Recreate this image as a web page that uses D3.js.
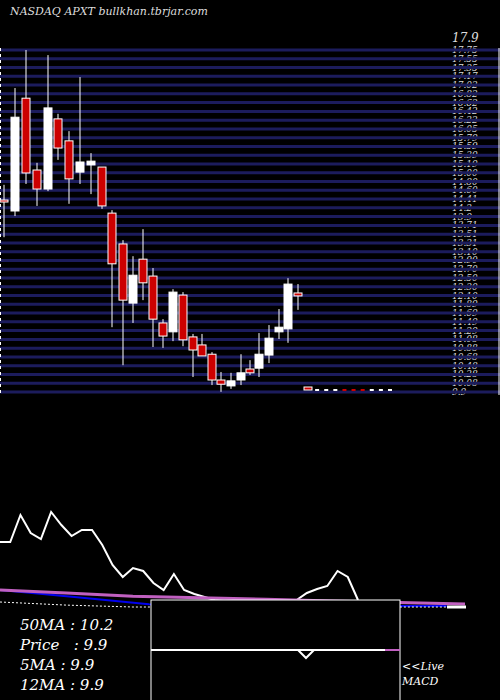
<!DOCTYPE html>
<html><head><meta charset="utf-8">
<script src="https://cdn.jsdelivr.net/npm/d3@7"></script>
<style>body{margin:0;background:#000}svg{display:block}</style>
</head><body>
<svg id="c" width="500" height="700"></svg>
<script>
const opens  = [14.16,13.90,16.57,14.87,14.42,16.08,15.56,14.82,14.99,14.94,13.85,13.12,11.72,12.76,12.36,11.25,11.04,11.91,10.92,10.73,10.51,9.90,9.76,9.90,10.16,10.18,10.49,11.04,11.11,11.96];
const closes = [14.14,16.12,14.80,14.42,16.34,15.39,14.66,15.06,15.08,14.02,12.65,11.79,12.38,12.20,11.34,10.94,11.98,10.85,10.61,10.47,9.90,9.80,9.88,10.07,10.07,10.51,10.89,11.15,12.17,11.89];
const highs  = [14.52,16.81,17.71,15.04,17.59,16.20,15.79,17.07,15.27,14.94,13.92,13.21,12.83,13.47,12.55,11.34,12.05,11.98,10.99,10.99,10.56,10.09,10.07,10.51,10.37,11.01,11.20,11.58,12.31,12.17];
const lows   = [13.28,13.78,14.54,14.02,14.37,15.11,14.07,14.54,14.30,13.95,11.15,10.25,11.25,11.79,10.68,10.66,10.82,10.70,9.97,10.47,9.78,9.62,9.69,9.78,10.02,9.97,10.30,10.87,10.78,11.56];
const candleX = [4,15,26,37,48,58,69,80,91,102,112,123,133,143,153,163,173,183,193,202,212,221,231,241,250,259,269,279,288,298];
const tickLabels = ["17.75","17.55","17.35","17.17","17.02","16.82","16.62","16.42","16.22","16.05","15.79","15.59","15.39","15.19","15.00","14.80","14.60","14.41","14.2","13.9","13.71","13.51","13.31","13.10","12.90","12.70","12.50","12.30","12.10","11.89","11.69","11.49","11.29","11.08","10.88","10.68","10.48","10.28","10.08","9.9"];
const smallMarks = [1,0,0,0,1,1,1,0,0,0];
const macdPrice = [542,542,515,533,539,512,525,536,530,530,545,565,577,568,571,583,590,574,590,594,597,600,601,602,603,604,603,602,600,600,593,589,586,571,577,600];
const ma50 = [10.2,10.1,10.0,9.95,9.9,9.85,9.8,9.75];

const svg = d3.select("#c");
svg.append("rect").attr("width",500).attr("height",700).attr("fill","#000");
const serif = "'DejaVu Serif', 'Liberation Serif', serif";

const gy = d3.scalePoint().domain(tickLabels).range([50,392]);
svg.selectAll(".t").data(tickLabels).enter().append("text")
  .attr("x",452).attr("y",d=>gy(d)+3).text(d=>d)
  .attr("fill","#ddd").attr("font-family",serif).attr("font-style","italic").attr("font-size",9);
svg.append("text").attr("x",452).attr("y",42).text("17.9").attr("fill","#ddd")
  .attr("font-family",serif).attr("font-style","italic").attr("font-size",12);
svg.selectAll(".g").data(tickLabels).enter().append("line")
  .attr("x1",0).attr("x2",500).attr("y1",d=>gy(d)).attr("y2",d=>gy(d))
  .attr("stroke","#1c1c5c").attr("stroke-width",3);
svg.append("line").attr("x1",499).attr("x2",499).attr("y1",48).attr("y2",395).attr("stroke","#fff");
svg.append("line").attr("x1",0.5).attr("x2",0.5).attr("y1",48).attr("y2",395).attr("stroke","#fff").attr("stroke-dasharray","3,3");

const y = d3.scaleLinear().domain([9.9,17.9]).range([380,42]);
const idx = d3.range(opens.length);
svg.selectAll(".w").data(idx).enter().append("line")
  .attr("x1",i=>candleX[i]).attr("x2",i=>candleX[i]).attr("y1",i=>y(highs[i])).attr("y2",i=>y(lows[i]))
  .attr("stroke","#fff").attr("stroke-width",1);
svg.selectAll(".b").data(idx).enter().append("rect")
  .attr("x",i=>candleX[i]-4).attr("width",8)
  .attr("y",i=>y(Math.max(opens[i],closes[i])))
  .attr("height",i=>Math.max(2,Math.abs(y(opens[i])-y(closes[i]))))
  .attr("fill",i=>closes[i]>=opens[i]?"#fff":"#cc0000").attr("stroke","#fff").attr("stroke-width",1);

const sx = d3.scaleLinear().domain([0,smallMarks.length-1]).range([308,390]);
svg.selectAll(".s").data(smallMarks).enter().append("rect")
  .attr("x",(d,i)=>sx(i)-(i==0?4:2)).attr("y",(d,i)=>i==0?387:389).attr("width",(d,i)=>i==0?8:4).attr("height",(d,i)=>i==0?3:2)
  .attr("fill",d=>d?"#cc0000":"#fff").attr("stroke",(d,i)=>i==0?"#fff":"none");

const lx = d3.scaleLinear().domain([0,35]).range([0,358]);
svg.append("path").datum(macdPrice).attr("fill","none").attr("stroke","#fff").attr("stroke-width",2)
  .attr("d",d3.line().x((d,i)=>lx(i)).y(d=>d));
const mx = d3.scaleLinear().domain([0,ma50.length-1]).range([0,465]);
const my = d3.scaleLinear().domain([9.75,10.2]).range([604,590]);
svg.append("path").datum(ma50.slice(0,7)).attr("fill","none").attr("stroke","#0000ee").attr("stroke-width",2)
  .attr("d",d3.line().x((d,i)=>mx(i)*446/398).y((d,i)=>Math.min(606,my(d)+(i<3?i*4:8))));
svg.append("path").datum(ma50).attr("fill","none").attr("stroke","#fff").attr("stroke-width",1).attr("stroke-dasharray","2,2")
  .attr("d",d3.line().x((d,i)=>mx(i)).y((d,i)=>Math.min(607,my(d)+12)));
svg.append("path").datum(ma50).attr("fill","none").attr("stroke","#c060c0").attr("stroke-width",3)
  .attr("d",d3.line().x((d,i)=>mx(i)).y(d=>my(d)));
svg.append("line").attr("x1",447).attr("x2",466).attr("y1",607).attr("y2",607).attr("stroke","#fff").attr("stroke-width",3);

svg.append("rect").attr("x",151).attr("y",600).attr("width",249).attr("height",102).attr("fill","#000").attr("stroke","#fff");
svg.append("line").attr("x1",151).attr("x2",385).attr("y1",650).attr("y2",650).attr("stroke","#fff").attr("stroke-width",2);
svg.append("line").attr("x1",385).attr("x2",400).attr("y1",650).attr("y2",650).attr("stroke","#c060c0").attr("stroke-width",2);
svg.append("path").attr("d","M298,650L306,658L314,650").attr("fill","none").attr("stroke","#fff").attr("stroke-width",2);

const labels = ["50MA : 10.2","Price   : 9.9","5MA : 9.9","12MA : 9.9"];
svg.selectAll(".l").data(labels).enter().append("text")
  .attr("x",20).attr("y",(d,i)=>630+i*20).text(d=>d).attr("fill","#fff")
  .attr("font-family",serif).attr("font-style","italic").attr("font-size",15).style("white-space","pre");
svg.append("text").attr("x",402).attr("y",670).text("<<Live").attr("fill","#fff").attr("font-family",serif).attr("font-style","italic").attr("font-size",11);
svg.append("text").attr("x",402).attr("y",685).text("MACD").attr("fill","#fff").attr("font-family",serif).attr("font-style","italic").attr("font-size",11);
svg.append("text").attr("x",10).attr("y",15).text("NASDAQ APXT bullkhan.tbrjar.com").attr("fill","#ddd").attr("font-family",serif).attr("font-style","italic").attr("font-size",11);
</script>
</body></html>
